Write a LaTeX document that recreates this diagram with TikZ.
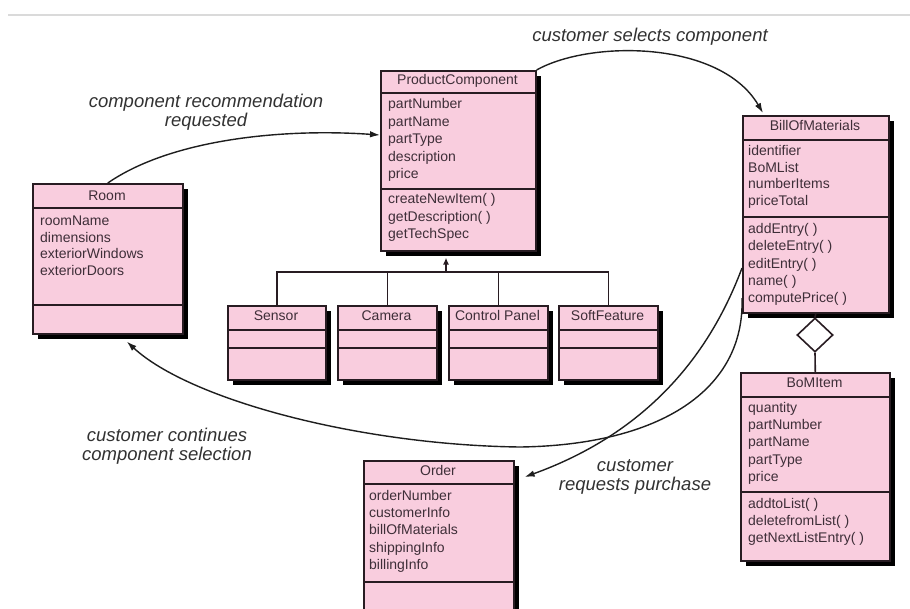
\documentclass[tikz,border=0pt]{standalone}
\usepackage{fontspec}
\setmainfont{Liberation Sans}
\usetikzlibrary{shapes.geometric,shadows,arrows.meta,calc}
\definecolor{boxpink}{RGB}{249,205,222}
\definecolor{boxline}{RGB}{40,28,34}
\definecolor{boxtext}{RGB}{62,46,56}
\definecolor{labeltext}{RGB}{50,50,50}
\definecolor{curvecol}{RGB}{30,30,30}
\definecolor{topgrey}{RGB}{218,218,218}
\tikzset{
 classbox/.style={rectangle, draw=boxline, line width=1.6pt, fill=boxpink, inner sep=0pt, anchor=north west,
   general shadow={fill=black, shadow xshift=5pt, shadow yshift=-5pt}},
 sepline/.style={draw=boxline, line width=1.6pt},
 boxtxt/.style={inner sep=0pt, text=boxtext, font=\fontsize{14}{16}\selectfont, text height=10pt, text depth=3pt},
 hdrtxt/.style={boxtxt, anchor=center},
 attrtxt/.style={boxtxt, anchor=west},
 flowlabel/.style={text=labeltext, font=\fontsize{18.5}{19}\selectfont\itshape, align=center, inner sep=0pt},
 flow/.style={draw=curvecol, line width=1.4pt, -{Latex[length=10pt,width=6.5pt]}},
 genline/.style={draw=boxline, line width=1.6pt},
 aggdiamond/.style={diamond, draw=boxline, line width=1.6pt, fill=white, inner sep=0pt, minimum width=36pt, minimum height=34pt},
}
\newcommand\umllines[5]{%
 \foreach \itm [count=\i] in {#5} {\node[attrtxt] (#1\i) at (#2, {#3+(\i-1)*#4}) {\itm};}%
}
\begin{document}
\begin{tikzpicture}[x=1pt,y=-1pt]
\useasboundingbox (0,0) rectangle (910,608);
\clip (0,0) rectangle (910,608);
\fill[white] (0,0) rectangle (910,608);
\draw[topgrey, line width=1.5pt] (8,15) -- (910,15);

% Room
\node[classbox, minimum width=150pt, minimum height=150pt] (room) at (32,183) {};
\node[hdrtxt] (room-t) at (107,197) {Room};
\draw[sepline] (32,208) -- (182,208);
\draw[sepline] (32,305) -- (182,305);
\umllines{room-a}{40}{222}{16.5}{roomName,dimensions,exteriorWindows,exteriorDoors}

% ProductComponent
\node[classbox, minimum width=155pt, minimum height=180pt] (pc) at (380,70) {};
\node[hdrtxt] (pc-t) at (457.5,81) {ProductComponent};
\draw[sepline] (380,93) -- (535,93);
\draw[sepline] (380,189) -- (535,189);
\umllines{pc-a}{388}{105}{17.5}{partNumber,partName,partType,description,price}
\umllines{pc-o}{388}{200}{17.5}{createNewItem( ),getDescription( ),getTechSpec}

% BillOfMaterials
\node[classbox, minimum width=146pt, minimum height=197pt] (bom) at (742,115) {};
\node[hdrtxt] (bom-t) at (815,127) {BillOfMaterials};
\draw[sepline] (742,140) -- (888,140);
\draw[sepline] (742,217) -- (888,217);
\umllines{bom-a}{748}{152}{16.7}{identifier,BoMList,numberItems,priceTotal}
\umllines{bom-o}{748}{230}{17.3}{addEntry( ),deleteEntry( ),editEntry( ),name( ),computePrice( )}

% BoMItem
\node[classbox, minimum width=149pt, minimum height=188pt] (bomi) at (740,372) {};
\node[hdrtxt] (bomi-t) at (814.5,384) {BoMItem};
\draw[sepline] (740,397) -- (889,397);
\draw[sepline] (740,492) -- (889,492);
\umllines{bomi-a}{748}{409}{17.2}{quantity,partNumber,partName,partType,price}
\umllines{bomi-o}{748}{505}{17}{addtoList( ),deletefromList( ),getNextListEntry( )}

% Order
\node[classbox, minimum width=150pt, minimum height=160pt] (order) at (363,460) {};
\node[hdrtxt] (order-t) at (438,472) {Order};
\draw[sepline] (363,484) -- (513,484);
\draw[sepline] (363,582) -- (513,582);
\umllines{order-a}{369}{497}{17.2}{orderNumber,customerInfo,billOfMaterials,shippingInfo,billingInfo}

% Subclasses
\node[classbox, minimum width=98pt, minimum height=74pt] (sensor) at (227,305) {};
\node[classbox, minimum width=99pt, minimum height=74pt] (camera) at (337,305) {};
\node[classbox, minimum width=99pt, minimum height=74pt] (ctrl) at (448,305) {};
\node[classbox, minimum width=99pt, minimum height=74pt] (softf) at (558,305) {};
\node[hdrtxt] (sensor-t) at (276,317) {Sensor};
\node[hdrtxt] (camera-t) at (386.5,317) {Camera};
\node[hdrtxt] (ctrl-t) at (497.5,317) {Control Panel};
\node[hdrtxt] (softf-t) at (607.5,317) {SoftFeature};
\foreach \xa/\xb in {227/325,337/436,448/547,558/657}{
  \draw[sepline] (\xa,330) -- (\xb,330);
  \draw[sepline] (\xa,348) -- (\xb,348);
}

% Generalization
\coordinate (gen) at (446,272);
\draw[genline] (sensor.north) -- (sensor.north |- gen) -- (softf.north |- gen) -- (softf.north);
\draw[genline] (camera.north) -- (camera.north |- gen);
\draw[genline] (ctrl.north) -- (ctrl.north |- gen);
\draw[genline, -{Latex[length=7pt,width=6pt]}] (gen) -- ($(pc.south -| gen)+(0,6)$);

% Aggregation
\node[aggdiamond] (agg) at (815,335) {};
\draw[genline] (agg.north) -- (bom.south);
\draw[genline] (agg.south) -- (bomi.north);

% Flow arrows
\coordinate (pc-in) at ($(pc.north west)+(0,65)$);
\draw[flow] (room.north) .. controls (170,140) and (280,128) .. (pc-in);
\coordinate (bom-in) at ($(bom.north west)+(21,-2)$);
\draw[flow] (pc.north east) .. controls (590,40) and (720,40) .. (bom-in);
\coordinate (bom-out1) at ($(bom.north west)+(0,153)$);
\coordinate (order-in) at ($(order.north east)+(10,17)$);
\draw[flow] (bom-out1) .. controls (715,340) and (660,428) .. (order-in);
\coordinate (bom-out2) at ($(bom.north west)+(0,183)$);
\coordinate (room-in) at ($(room.south)+(19,7)$);
\draw[flow] (bom-out2) .. controls (745,390) and (660,445) .. (520,447) .. controls (360,445) and (190,400) .. (room-in);

% Labels
\node[flowlabel] (lab-sel) at (650,37) {customer selects component};
\node[flowlabel] (lab-rec) at (206,112) {component recommendation\\requested};
\node[flowlabel] (lab-cont) at (167,446) {customer continues\\component selection};
\node[flowlabel] (lab-pur) at (635,477) {customer\\requests purchase};
\end{tikzpicture}
\end{document}
